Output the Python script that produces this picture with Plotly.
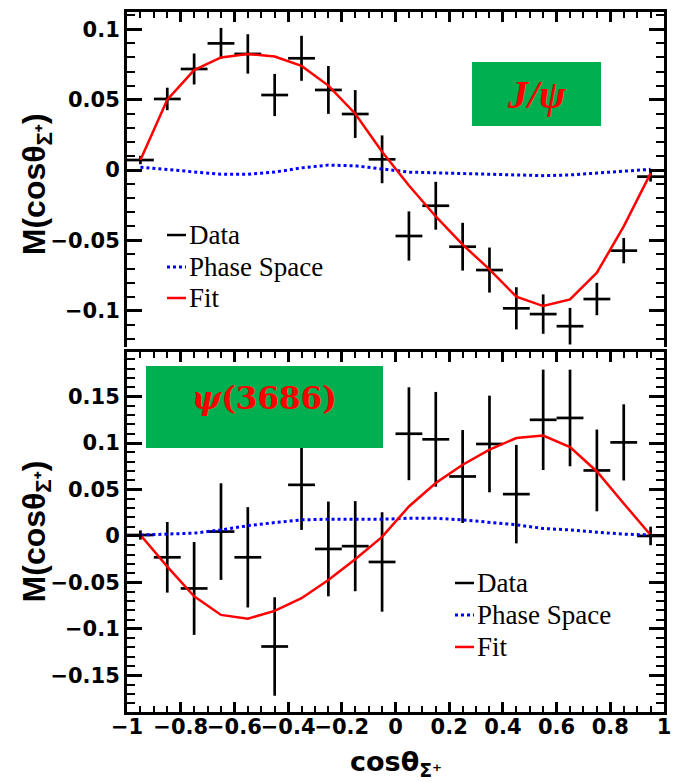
import plotly.graph_objects as go

# ---------------- data ----------------
x_centers = [-0.95, -0.85, -0.75, -0.65, -0.55, -0.45, -0.35, -0.25, -0.15, -0.05,
             0.05, 0.15, 0.25, 0.35, 0.45, 0.55, 0.65, 0.75, 0.85, 0.95]
bin_half_width = 0.05

# J/psi panel
jpsi_data = [0.0071, 0.0505, 0.0718, 0.0900, 0.0825, 0.0533, 0.0794, 0.0569, 0.0398, 0.0076,
             -0.0469, -0.0254, -0.0545, -0.0711, -0.0983, -0.1024, -0.1110, -0.0917, -0.0573, -0.0047]
jpsi_err = [0.003, 0.008, 0.011, 0.011, 0.014, 0.015, 0.016, 0.017, 0.017, 0.017,
            0.0175, 0.017, 0.017, 0.016, 0.015, 0.014, 0.013, 0.0115, 0.009, 0.0035]
jpsi_fit = [0.0071, 0.0500, 0.0710, 0.0800, 0.0825, 0.0806, 0.0740, 0.0600, 0.0400, 0.0130,
            -0.0110, -0.0330, -0.0530, -0.0706, -0.0900, -0.0967, -0.0920, -0.0730, -0.0400, -0.0024]
jpsi_ps = [0.0020, 0.0005, -0.0015, -0.0030, -0.0030, -0.0015, 0.0015, 0.0035, 0.0030, 0.0005,
           -0.0015, -0.0020, -0.0025, -0.0030, -0.0040, -0.0040, -0.0035, -0.0020, -0.0005, 0.0005]

# psi(3686) panel
psi_data = [0.001, -0.023, -0.0565, 0.0047, -0.023, -0.119, 0.055, -0.014, -0.011, -0.028,
            0.110, 0.104, 0.064, 0.099, 0.045, 0.125, 0.127, 0.0705, 0.1007, 0.000]
psi_err = [0.005, 0.038, 0.050, 0.052, 0.054, 0.053, 0.0485, 0.051, 0.0485, 0.0535,
           0.050, 0.051, 0.050, 0.052, 0.053, 0.054, 0.052, 0.044, 0.041, 0.010]
psi_fit = [0.001, -0.033, -0.065, -0.085, -0.089, -0.0806, -0.067, -0.0475, -0.025, -0.001,
           0.0317, 0.057, 0.0766, 0.093, 0.1054, 0.108, 0.0957, 0.0694, 0.035, 0.001]
psi_ps = [0.001, 0.0018, 0.003, 0.0065, 0.011, 0.0144, 0.0173, 0.018, 0.018, 0.018,
          0.019, 0.019, 0.0173, 0.0144, 0.012, 0.008, 0.0065, 0.004, 0.002, 0.001]

x_tickvals = [-1, -0.8, -0.6, -0.4, -0.2, 0, 0.2, 0.4, 0.6, 0.8, 1]
x_ticktext = ["\u22121", "\u22120.8", "\u22120.6", "\u22120.4", "\u22120.2", "0",
              "0.2", "0.4", "0.6", "0.8", "1"]
top_y_tickvals = [-0.1, -0.05, 0, 0.05, 0.1]
top_y_ticktext = ["\u22120.1", "\u22120.05", "0", "0.05", "0.1"]
bot_y_tickvals = [-0.15, -0.1, -0.05, 0, 0.05, 0.1, 0.15]
bot_y_ticktext = ["\u22120.15", "\u22120.1", "\u22120.05", "0", "0.05", "0.1", "0.15"]

legend_labels = ["Data", "Phase Space", "Fit"]
top_label = "<b><i>J/\u03c8</i></b>"
bot_label = "<b><i>\u03c8</i>(3686)</b>"
y_title = "<b>M(cos\u03b8<sub>\u03a3\u207a</sub>)</b>"
x_title = "<b>cos\u03b8<sub>\u03a3\u207a</sub></b>"

# ---------------- styles ----------------
RED = "#ff0000"
BLUE = "#0000ff"
GREEN = "#00b050"
tickfont = dict(family="DejaVu Sans", size=21, color="black", weight=700)

fig = go.Figure()

def add_panel(xa, ya, data, err, fit, ps):
    fig.add_trace(go.Scatter(
        x=x_centers, y=data, mode="markers", xaxis=xa, yaxis=ya,
        marker=dict(size=0.1, color="black"),
        error_y=dict(type="data", array=err, symmetric=True, color="black", thickness=2.7, width=0),
        error_x=dict(type="constant", value=bin_half_width, color="black", thickness=2.7, width=0),
        showlegend=False, hoverinfo="skip"))
    fig.add_trace(go.Scatter(
        x=x_centers, y=ps, mode="lines", xaxis=xa, yaxis=ya,
        line=dict(color=BLUE, width=3, dash="dot"), showlegend=False))
    fig.add_trace(go.Scatter(
        x=x_centers, y=fit, mode="lines", xaxis=xa, yaxis=ya,
        line=dict(color=RED, width=2.5), showlegend=False))

add_panel("x2", "y2", jpsi_data, jpsi_err, jpsi_fit, jpsi_ps)
add_panel("x", "y", psi_data, psi_err, psi_fit, psi_ps)

common_x = dict(range=[-1, 1], tickmode="array", tickvals=x_tickvals, ticktext=x_ticktext,
                ticks="inside", ticklen=10, tickwidth=2.5, tickcolor="black", tickangle=0,
                showline=True, linewidth=3, linecolor="black", showgrid=False, zeroline=False,
                automargin=False,
                minor=dict(ticks="inside", ticklen=6, tickwidth=2, tickcolor="black",
                           tick0=0, dtick=0.05, showgrid=False),
                tickfont=tickfont)
common_y = dict(tickmode="array", ticks="inside", ticklen=15, tickwidth=2.5, tickcolor="black",
                showline=True, linewidth=3, linecolor="black", showgrid=False, zeroline=False,
                mirror="ticks", tickfont=tickfont, ticklabelstandoff=0, automargin=False,
                minor=dict(ticks="inside", ticklen=8, tickwidth=2, tickcolor="black",
                           tick0=0, dtick=0.01, showgrid=False))

fig.update_layout(
    width=674, height=782,
    margin=dict(l=127, r=10, t=12, b=70),
    paper_bgcolor="white", plot_bgcolor="white",
    showlegend=False,
    xaxis=dict(domain=[0, 1], anchor="y", mirror="ticks", ticklabelstandoff=-6, **common_x),
    yaxis=dict(domain=[0, 0.5143], anchor="x", range=[-0.1895, 0.198],
               tickvals=bot_y_tickvals, ticktext=bot_y_ticktext, **common_y),
    xaxis2=dict(domain=[0, 1], anchor="y2", side="top", showticklabels=False, **common_x),
    yaxis2=dict(domain=[0.5214, 1], anchor="x2", range=[-0.1258, 0.1123],
                tickvals=top_y_tickvals, ticktext=top_y_ticktext, **common_y),
)

shapes = []
annotations = []

# label boxes
shapes.append(dict(type="rect", xref="x2 domain", yref="y2 domain",
                   x0=0.6425, x1=0.8827, y0=0.6597, y1=0.8507,
                   fillcolor=GREEN, line=dict(width=0), layer="above"))
annotations.append(dict(text=top_label, xref="x2 domain", yref="y2 domain",
                        x=(0.6425 + 0.8827) / 2, y=(0.6597 + 0.8507) / 2,
                        xanchor="center", yanchor="middle", showarrow=False,
                        font=dict(family="Liberation Serif", size=40, color=RED)))
shapes.append(dict(type="rect", xref="x domain", yref="y domain",
                   x0=0.0354, x1=0.4767, y0=0.7333, y1=0.9611,
                   fillcolor=GREEN, line=dict(width=0), layer="above"))
annotations.append(dict(text=bot_label, xref="x domain", yref="y domain",
                        x=(0.0354 + 0.4767) / 2, y=0.872,
                        xanchor="center", yanchor="middle", showarrow=False,
                        font=dict(family="DejaVu Serif", size=31, color=RED)))

# legends
leg_styles = [dict(color="black", width=2.5), dict(color=BLUE, width=3, dash="dot"),
              dict(color=RED, width=2.5)]

def add_legend(xref, yref, lx0, lx1, tx, ys):
    for lab, sty, yy in zip(legend_labels, leg_styles, ys):
        shapes.append(dict(type="line", xref=xref, yref=yref, x0=lx0, x1=lx1, y0=yy, y1=yy,
                           line=sty, layer="above"))
        annotations.append(dict(text=lab, xref=xref, yref=yref, x=tx, y=yy,
                                xanchor="left", yanchor="middle", showarrow=False,
                                borderpad=0,
                                font=dict(family="Liberation Serif", size=27, color="black")))

add_legend("x2 domain", "y2 domain", 0.0745, 0.1099, 0.1136, [0.3343, 0.2388, 0.1463])
add_legend("x domain", "y domain", 0.6108, 0.6462, 0.6499, [0.3583, 0.2694, 0.1806])

# axis titles
title_font = dict(family="Liberation Sans", size=32, color="black")
annotations.append(dict(text=y_title, xref="paper", yref="paper", x=0, y=0.754,
                        xshift=-91, textangle=-90, xanchor="center", yanchor="middle",
                        showarrow=False, font=title_font))
annotations.append(dict(text=y_title, xref="paper", yref="paper", x=0, y=0.258,
                        xshift=-91, textangle=-90, xanchor="center", yanchor="middle",
                        showarrow=False, font=title_font))
annotations.append(dict(text=x_title, xref="paper", yref="paper", x=0.5, y=0,
                        yshift=-51, xanchor="center", yanchor="middle", showarrow=False,
                        font=dict(family="DejaVu Sans", size=27, color="black")))

fig.update_layout(shapes=shapes, annotations=annotations)
fig.write_html("out.html", config={"displayModeBar": False},
               post_script="document.body.style.margin='0';document.body.style.overflow='hidden';")
